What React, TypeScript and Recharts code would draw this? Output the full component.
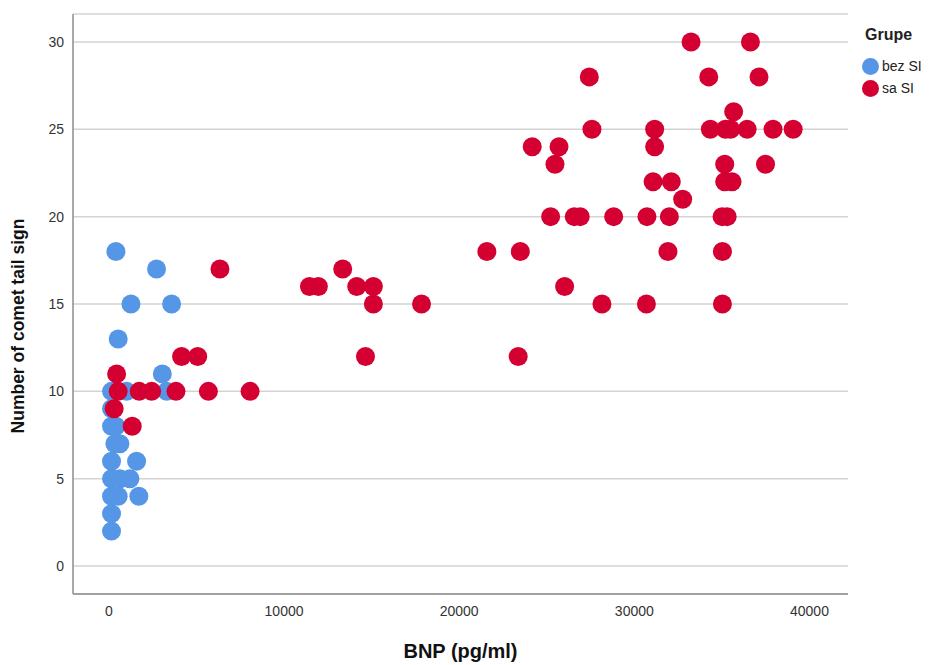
import React from 'react';
import {
  ScatterChart,
  Scatter,
  XAxis,
  YAxis,
  CartesianGrid,
  Label,
} from 'recharts';

// bez SI group (blue)
const bezBnp = [400, 2720, 1260, 3580, 530, 3050, 150, 250, 1010, 3300, 150, 150, 400, 340, 630, 150, 1580, 150, 630, 1200, 150, 530, 1710, 150, 150];
const bezComet = [18, 17, 15, 15, 13, 11, 10, 10, 10, 10, 9, 8, 8, 7, 7, 6, 6, 5, 5, 5, 4, 4, 4, 3, 2];

// sa SI group (red)
const saBnp = [
  33240, 36630,
  27430, 34250, 37120,
  35670,
  27580, 31160, 34340, 35200, 35500, 36440, 37920, 39070,
  24170, 25700, 31160,
  25470, 35160, 37490,
  31070, 32110, 35160, 35580,
  32760,
  25220, 26570, 26910, 28820, 30720, 32000, 35010, 35300,
  21580, 23490, 31920, 35030,
  13350, 6340,
  11450, 11960, 14150, 15100, 26020,
  15100, 17850, 28150, 30690, 35030,
  14650, 23370, 4150, 5070,
  440,
  530, 1730, 2440, 3830, 5680, 8060,
  300,
  1330,
];
const saComet = [
  30, 30,
  28, 28, 28,
  26,
  25, 25, 25, 25, 25, 25, 25, 25,
  24, 24, 24,
  23, 23, 23,
  22, 22, 22, 22,
  21,
  20, 20, 20, 20, 20, 20, 20, 20,
  18, 18, 18, 18,
  17, 17,
  16, 16, 16, 16, 16,
  15, 15, 15, 15, 15,
  12, 12, 12, 12,
  11,
  10, 10, 10, 10, 10, 10,
  9,
  8,
];

const xTicks = [0, 10000, 20000, 30000, 40000];
const yTicks = [0, 5, 10, 15, 20, 25, 30];

const BLUE = '#5596e6';
const RED = '#d50032';
const FONT = '"Liberation Sans", Arial, sans-serif';

const bezData = bezBnp.map((x, i) => ({ bnp: x, comet: bezComet[i] }));
const saData = saBnp.map((x, i) => ({ bnp: x, comet: saComet[i] }));

const dot = (color: string) => (props: any) => (
  <circle cx={props.cx} cy={props.cy} r={9.5} fill={color} />
);

const App: React.FC = () => {
  return (
    <div style={{ position: 'absolute', left: 0, top: 0, width: 934, height: 665, background: '#fff', fontFamily: FONT }}>
      <ScatterChart width={934} height={665} margin={{ top: 14, right: 86, bottom: 0, left: 0 }}>
        <CartesianGrid horizontal vertical={false} stroke="#d3d3d3" strokeWidth={1.5} />
        <XAxis
          type="number"
          dataKey="bnp"
          domain={[-2050, 42200]}
          ticks={xTicks}
          allowDataOverflow
          height={71}
          tickSize={0}
          tickMargin={12}
          tickLine={false}
          axisLine={{ stroke: '#8c8c8c', strokeWidth: 1.5 }}
          tick={{ fill: '#333', fontSize: 14, fontFamily: FONT }}
        >
          <Label
            value="BNP (pg/ml)"
            position="insideBottom"
            offset={7}
            style={{ fill: '#111', fontSize: 20, fontWeight: 'bold', fontFamily: FONT }}
          />
        </XAxis>
        <YAxis
          type="number"
          dataKey="comet"
          domain={[-1.6, 31.6]}
          ticks={yTicks}
          allowDataOverflow
          width={73}
          tickSize={0}
          tickMargin={9}
          tickLine={false}
          axisLine={{ stroke: '#8c8c8c', strokeWidth: 1.5 }}
          tick={{ fill: '#333', fontSize: 14, fontFamily: FONT }}
        >
          <Label
            content={() => (
              <text
                x={24}
                y={326}
                transform="rotate(-90 24 326)"
                textAnchor="middle"
                style={{ fill: '#111', fontSize: 17.5, fontWeight: 'bold', fontFamily: FONT }}
              >
                Number of comet tail sign
              </text>
            )}
          />
        </YAxis>
        <Scatter name="bez SI" data={bezData} shape={dot(BLUE)} isAnimationActive={false} />
        <Scatter name="sa SI" data={saData} shape={dot(RED)} isAnimationActive={false} />
      </ScatterChart>
      <div style={{ position: 'absolute', left: 862, top: 26, color: '#222' }}>
        <div style={{ fontSize: 16, fontWeight: 'bold', marginBottom: 11, marginLeft: 3 }}>Grupe</div>
        {[
          { name: 'bez SI', color: BLUE },
          { name: 'sa SI', color: RED },
        ].map((item) => (
          <div key={item.name} style={{ display: 'flex', alignItems: 'center', height: 22, fontSize: 14 }}>
            <span style={{ width: 17, height: 17, borderRadius: '50%', background: item.color, display: 'inline-block', marginRight: 3 }} />
            <span>{item.name}</span>
          </div>
        ))}
      </div>
    </div>
  );
};

export default App;
